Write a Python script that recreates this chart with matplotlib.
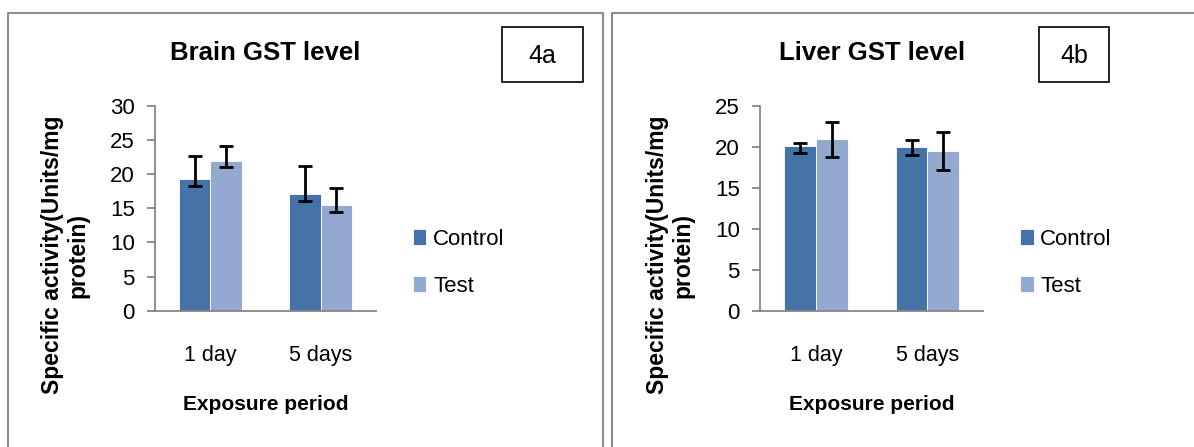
import numpy as np
import matplotlib
matplotlib.use("Agg")
import matplotlib.pyplot as plt
from matplotlib import font_manager
from matplotlib.lines import Line2D
from matplotlib.patches import Rectangle

W, H = 1194, 447

# pick a narrow face if one is installed
names = {f.name for f in font_manager.fontManager.ttflist}
FONT = "Liberation Sans Narrow" if "Liberation Sans Narrow" in names else "Liberation Sans"
plt.rcParams["font.family"] = [FONT, "DejaVu Sans"]

categories = ["1 day", "5 days"]
series = ["Control", "Test"]

# Brain GST (4a): bar heights and error bar ends (low, high)
brain_control = [19.3, 17.1]
brain_control_low = [18.3, 16.1]
brain_control_high = [22.6, 21.2]
brain_test = [21.9, 15.5]
brain_test_low = [21.0, 14.5]
brain_test_high = [24.1, 17.9]

# Liver GST (4b)
liver_control = [20.1, 19.95]
liver_control_low = [19.2, 19.0]
liver_control_high = [20.45, 20.8]
liver_test = [21.0, 19.5]
liver_test_low = [18.7, 17.2]
liver_test_high = [23.05, 21.8]

C_CONTROL = "#4572a7"
C_TEST = "#93a9cf"
GREY = "#868686"


def fx(x):
    return x / W


def fy(y):
    return 1 - y / H


fig = plt.figure(figsize=(W / 100, H / 100), dpi=100)

# panel frames (open at bottom / right as in the original crop)
for xs, ys in [([8, 8, 603, 603], [H, 13, 13, H]),
               ([612, 612, W], [H, 13, 13])]:
    fig.add_artist(Line2D([fx(v) for v in xs], [fy(v) for v in ys],
                          color="#8c8c8c", lw=1.5, transform=fig.transFigure))


def panel(x0, x1, top, ymax, title, tag, tagbox, ctrl, clo, chi, test, tlo, thi):
    ax = fig.add_axes([fx(x0), fy(310.7), fx(x1) - fx(x0), (310.7 - 105.7) / H])
    x = np.arange(len(categories))
    w = 0.285
    for off, vals, lo, hi, col, lab in [(-w / 2, ctrl, clo, chi, C_CONTROL, series[0]),
                                        (w / 2, test, tlo, thi, C_TEST, series[1])]:
        vals = np.array(vals)
        yerr = [vals - np.array(lo), np.array(hi) - vals]
        ax.bar(x + off, vals, w, color=col, label=lab, edgecolor="white", linewidth=0.6)
        ax.errorbar(x + off, vals, yerr=yerr, fmt="none", ecolor="black",
                    elinewidth=2.0, capsize=5, capthick=2.0)
    ax.set_xlim(-0.5, 1.5)
    ax.set_ylim(0, ymax)
    ax.set_yticks(np.arange(0, ymax + 1, 5))
    ax.set_xticks(x)
    ax.set_xticklabels(categories)
    for s in ["top", "right"]:
        ax.spines[s].set_visible(False)
    for s in ["left", "bottom"]:
        ax.spines[s].set_color(GREY)
        ax.spines[s].set_linewidth(1.3)
    ax.tick_params(axis="y", length=5.5, width=1.3, color=GREY, labelsize=16, pad=9)
    ax.tick_params(axis="x", length=0, labelsize=15.5, pad=25)

    cx = (x0 + x1) / 2
    fig.text(fx(cx), fy(top), title, ha="center", va="center",
             fontsize=18.5, fontweight="bold")
    fig.text(fx(cx), fy(405), "Exposure period", ha="center", va="center",
             fontsize=15, fontweight="bold")
    fig.text(fx(x0 - 90), fy(255), "Specific activity(Units/mg\nprotein)",
             ha="center", va="center", rotation=90, fontsize=16.5,
             fontweight="bold", multialignment="center", linespacing=1.15)

    bx0, bx1 = tagbox
    fig.add_artist(Rectangle((fx(bx0), fy(82)), fx(bx1) - fx(bx0), (82 - 27.3) / H,
                             transform=fig.transFigure, fill=False,
                             edgecolor="black", lw=1.2))
    fig.text(fx((bx0 + bx1) / 2), fy(56), tag, ha="center", va="center", fontsize=18)

    ax.legend(loc="upper left", bbox_to_anchor=(fx(x1 + 37), fy(229)),
              bbox_transform=fig.transFigure, frameon=False, fontsize=16,
              handlelength=0.6, handleheight=0.7, handletextpad=0.3,
              labelspacing=1.15, borderpad=0, borderaxespad=0)
    return ax


panel(155, 376, 53, 30, "Brain GST level", "4a", (501.7, 583.3),
      brain_control, brain_control_low, brain_control_high,
      brain_test, brain_test_low, brain_test_high)
panel(760, 983.3, 53, 25, "Liver GST level", "4b", (1039, 1109.3),
      liver_control, liver_control_low, liver_control_high,
      liver_test, liver_test_low, liver_test_high)

fig.savefig("out.png", dpi=100)
